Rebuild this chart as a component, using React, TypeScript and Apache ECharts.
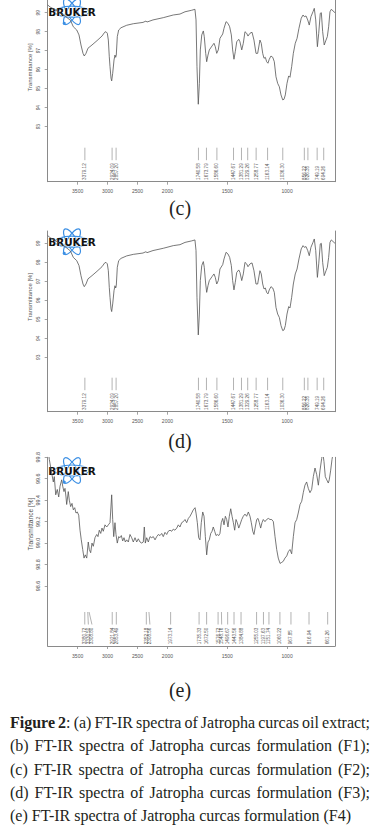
import React, { useEffect, useRef } from 'react';
import * as echarts from 'echarts';

const W = 377;
const H = 829;

// ---- Spectrum F2 (panels c and d): wavenumber [cm-1] and transmittance [%]
const wnF2 = [4000, 3960, 3900, 3800, 3700, 3620, 3572, 3515, 3477, 3444, 3410, 3389, 3360, 3327, 3260, 3176, 3093, 3048, 3026, 3004, 2987, 2971, 2959, 2942, 2931, 2914, 2892, 2876, 2864, 2854, 2837, 2814, 2775, 2680, 2570, 2408, 2358, 2341, 2241, 2069, 1951, 1895, 1853, 1797, 1770, 1761, 1753, 1742, 1733, 1725, 1713, 1700, 1692, 1680, 1672, 1661, 1650, 1627, 1611, 1600, 1588, 1575, 1561, 1538, 1527, 1510, 1494, 1480, 1466, 1455, 1444, 1433, 1421, 1404, 1394, 1379, 1366, 1352, 1338, 1327, 1310, 1293, 1277, 1260, 1246, 1227, 1216, 1204, 1193, 1182, 1171, 1160, 1149, 1135, 1120, 1107, 1093, 1079, 1065, 1051, 1037, 1026, 1015, 1001, 987, 976, 962, 948, 932, 917, 901, 882, 867, 856, 842, 828, 815, 801, 784, 773, 761, 747, 736, 723, 714, 703, 690, 675, 664, 653, 642, 631, 617, 600];
const trF2 = [99.41, 99.3, 99.2, 99.0, 98.8, 98.6, 98.26, 98.09, 97.83, 97.3, 96.86, 96.72, 96.86, 97.13, 97.3, 97.53, 97.77, 97.97, 98.0, 97.92, 97.56, 96.68, 96.16, 95.55, 95.41, 95.81, 96.51, 96.77, 96.65, 96.77, 97.74, 98.09, 98.21, 98.34, 98.42, 98.49, 98.56, 98.51, 98.62, 98.74, 98.88, 98.93, 99.05, 99.13, 99.18, 98.62, 96.16, 94.18, 95.28, 97.04, 97.83, 98.04, 97.74, 96.86, 96.42, 96.77, 97.04, 97.25, 97.39, 97.21, 96.86, 97.04, 97.65, 97.88, 98.18, 98.53, 98.44, 98.26, 97.83, 97.04, 96.55, 96.95, 97.47, 97.6, 97.47, 97.04, 97.39, 98.0, 97.92, 97.77, 97.92, 97.97, 97.56, 96.86, 96.86, 97.56, 97.39, 96.86, 96.6, 96.65, 96.42, 96.34, 96.55, 96.72, 96.65, 96.42, 95.63, 95.28, 95.1, 94.67, 94.41, 94.44, 94.67, 95.28, 95.67, 95.6, 96.16, 96.86, 97.39, 97.65, 98.18, 98.71, 98.88, 98.79, 98.83, 98.62, 98.35, 98.79, 99.05, 99.23, 98.62, 97.21, 97.92, 98.97, 99.0, 98.0, 97.3, 97.56, 97.74, 98.26, 99.05, 99.18, 99.1, 99.0];
const peaksF2 = [3379.12, 2924.09, 2857.2, 1740.58, 1673.79, 1586.6, 1447.67, 1381.29, 1329.26, 1258.77, 1163.14, 1036.3, 856.22, 826.35, 749.19, 694.26];

// ---- Spectrum F4 (panel e)
const wnF4 = [4000, 3973, 3933, 3906, 3890, 3866, 3840, 3816, 3794, 3766, 3749, 3728, 3711, 3694, 3683, 3656, 3639, 3616, 3594, 3572, 3549, 3527, 3505, 3482, 3460, 3439, 3415, 3393, 3372, 3348, 3322, 3305, 3282, 3260, 3238, 3210, 3181, 3160, 3138, 3114, 3093, 3071, 3043, 3014, 2987, 2959, 2931, 2914, 2897, 2876, 2859, 2837, 2814, 2792, 2770, 2747, 2725, 2703, 2680, 2653, 2625, 2597, 2570, 2541, 2513, 2486, 2458, 2429, 2403, 2386, 2369, 2346, 2319, 2291, 2262, 2236, 2207, 2179, 2152, 2124, 2095, 2069, 2040, 2012, 1993, 1978, 1964, 1951, 1937, 1922, 1909, 1895, 1881, 1867, 1853, 1839, 1825, 1811, 1797, 1784, 1769, 1761, 1750, 1739, 1728, 1717, 1705, 1694, 1683, 1672, 1661, 1650, 1638, 1627, 1617, 1605, 1594, 1583, 1571, 1561, 1550, 1538, 1527, 1516, 1505, 1494, 1483, 1471, 1460, 1449, 1438, 1427, 1416, 1404, 1394, 1379, 1366, 1352, 1338, 1324, 1310, 1299, 1287, 1277, 1266, 1254, 1243, 1232, 1221, 1210, 1199, 1185, 1171, 1157, 1143, 1129, 1115, 1101, 1087, 1074, 1059, 1045, 1032, 1018, 1003, 990, 976, 962, 948, 934, 920, 907, 892, 878, 865, 851, 837, 823, 809, 795, 781, 767, 753, 739, 725, 711, 703, 692, 681, 669, 656, 648, 636, 625, 614, 600];
const trF4 = [99.9, 99.78, 99.65, 99.57, 99.62, 99.45, 99.5, 99.43, 99.53, 99.59, 99.53, 99.48, 99.51, 99.43, 99.36, 99.48, 99.4, 99.34, 99.37, 99.31, 99.33, 99.28, 99.29, 99.26, 99.12, 99.03, 98.94, 98.86, 98.89, 98.86, 99.01, 98.94, 98.91, 99.0, 98.97, 99.05, 99.08, 99.06, 99.12, 99.09, 99.14, 99.11, 99.17, 99.15, 99.17, 99.19, 99.45, 99.22, 99.06, 99.19, 99.08, 99.0, 99.06, 99.05, 99.07, 99.02, 99.05, 99.01, 99.03, 99.01, 99.08, 99.05, 99.01, 99.05, 99.01, 99.04, 99.01, 99.0, 99.01, 99.15, 99.0, 99.05, 99.01, 99.06, 99.05, 99.06, 99.03, 99.06, 99.08, 99.07, 99.09, 99.06, 99.1, 99.08, 99.11, 99.12, 99.11, 99.13, 99.12, 99.14, 99.17, 99.15, 99.19, 99.2, 99.22, 99.19, 99.23, 99.25, 99.28, 99.31, 99.33, 99.28, 99.19, 99.05, 99.03, 99.19, 99.29, 99.25, 99.06, 98.89, 99.01, 99.03, 99.09, 99.11, 99.15, 99.11, 99.07, 99.08, 99.07, 99.09, 99.19, 99.23, 99.17, 99.25, 99.22, 99.15, 99.25, 99.32, 99.25, 99.19, 99.12, 99.22, 99.19, 99.14, 99.17, 99.22, 99.25, 99.27, 99.25, 99.29, 99.25, 99.19, 99.11, 99.08, 99.15, 99.22, 99.23, 99.19, 99.14, 99.19, 99.22, 99.2, 99.22, 99.23, 99.22, 99.22, 99.2, 99.06, 98.94, 98.86, 98.81, 98.82, 98.83, 98.86, 98.88, 98.92, 98.94, 98.9, 99.06, 99.19, 99.22, 99.28, 99.36, 99.39, 99.47, 99.54, 99.57, 99.51, 99.47, 99.5, 99.62, 99.7, 99.64, 99.54, 99.68, 99.79, 99.85, 99.76, 99.62, 99.59, 99.56, 99.59, 99.68, 99.78, 99.85, 99.9];
const peaksF4 = [3380.72, 3330.5, 3308.8, 2921.84, 2853.49, 2352.18, 2308.56, 1973.14, 1735.33, 1672.5, 1576.72, 1548.76, 1496.67, 1443.56, 1384.88, 1255.03, 1197.63, 1151.74, 1060.22, 967.85, 816.94, 661.26];

// ---- Tick labels
const xTickLabels = [3500, 3000, 2500, 2000, 1500, 1000];
const yTicksF2 = [93, 94, 95, 96, 97, 98, 99];
const yTicksF4 = [98.6, 98.8, 99.0, 99.2, 99.4, 99.6, 99.8];

// ---- Texts
const panelLabels = ['(c)', '(d)', '(e)'];
const yAxisName = 'Transmittance [%]';
const logoText = 'BRUKER';
const captionBold = 'Figure 2';
const captionLines = [
  'Figure 2: (a) FT-IR spectra of Jatropha curcas oil extract;',
  '(b) FT-IR spectra of Jatropha curcas formulation (F1);',
  '(c) FT-IR spectra of Jatropha curcas formulation (F2);',
  '(d) FT-IR spectra of Jatropha curcas formulation (F3);',
  '(e) FT-IR spectra of Jatropha curcas formulation (F4)',
];

// Bruker plots compress the region above 2000 cm-1 by a factor of two
const toT = (w: number) => (w <= 2000 ? w : 2000 + (w - 2000) / 2);
const fromT = (t: number) => (t <= 2000 ? t : 2000 + (t - 2000) * 2);

function spreadLabels(peaks: number[], gap: number) {
  const out: number[] = [];
  peaks.map(toT).forEach((t, i) => {
    out.push(i > 0 && out[i - 1] - t < gap ? out[i - 1] - gap : t);
  });
  return out;
}

const AXIS = '#8a8a8a';
const TXT = '#555';
const SANS = '"Liberation Sans", Arial, sans-serif';
const SERIF = '"Liberation Serif", "Times New Roman", serif';
const BLUE = '#3b8fe4';

const panels = [
  { wn: wnF2, tr: trF2, peaks: peaksF2, yTicks: yTicksF2, dec: 0, yMin: 90.1, yMax: 99.67, top: 0, height: 181.7, yFont: 4.8, nameFont: 6, nameY: 67.5, logoY: 11.7, labelY: 207.5 },
  { wn: wnF2, tr: trF2, peaks: peaksF2, yTicks: yTicksF2, dec: 0, yMin: 90.14, yMax: 99.65, top: 231, height: 180.7, yFont: 4.8, nameFont: 6, nameY: 297, logoY: 241.7, labelY: 441 },
  { wn: wnF4, tr: trF4, peaks: peaksF4, yTicks: yTicksF4, dec: 1, yMin: 98.04, yMax: 99.8, top: 457.3, height: 188.7, yFont: 5.4, nameFont: 6.6, nameY: 524, logoY: 470.5, labelY: 690 },
];

const GL = 47.7;
const GW = 287.3;

function logo(cy: number) {
  const ell = (rx: number, ry: number, rot: number) => ({
    type: 'ellipse', rotation: rot, shape: { cx: 0, cy: 0, rx, ry },
    style: { fill: 'none', stroke: BLUE, lineWidth: 1.2 },
  });
  return {
    type: 'group', x: 72, y: cy, z: 100,
    children: [
      ell(17, 5.5, 0),
      ell(14.5, 5, Math.PI / 3),
      ell(14.5, 5, -Math.PI / 3),
      { type: 'circle', shape: { cx: -7.8, cy: 11.6, r: 1.6 }, style: { fill: BLUE } },
      {
        type: 'text', x: 0, y: 0.3,
        style: { text: logoText, fontFamily: '"DejaVu Sans", sans-serif', fontWeight: 'bold', fontSize: 10.4, fill: '#111', stroke: '#fff', lineWidth: 0.8, align: 'center', verticalAlign: 'middle' },
      },
    ],
  };
}

function captionElements(): any[] {
  const fs = 16;
  const left = 10;
  const width = 360;
  const top = 722.5;
  const step = 23.3;
  const ctx = document.createElement('canvas').getContext('2d')!;
  const measure = (s: string, bold: boolean) => {
    if (!s) return 0;
    ctx.font = `${bold ? 'bold ' : ''}${fs}px ${SERIF}`;
    return ctx.measureText(s).width;
  };
  const els: any[] = [];
  captionLines.forEach((line, li) => {
    let pos = 0;
    const toks = line.split(' ').map((wd) => {
      const start = pos;
      pos += wd.length + 1;
      const nb = li === 0 ? Math.max(0, Math.min(wd.length, captionBold.length - start)) : 0;
      return { b: wd.slice(0, nb), n: wd.slice(nb) };
    });
    const widths = toks.map((t) => measure(t.b, true) + measure(t.n, false));
    const total = widths.reduce((a, b) => a + b, 0);
    const justify = li < captionLines.length - 1;
    const gap = justify ? (width - total) / (toks.length - 1) : measure(' ', false);
    let x = left;
    toks.forEach((t, i) => {
      els.push({
        type: 'text', x, y: top + li * step, z: 100,
        style: {
          text: (t.b ? `{b|${t.b}}` : '') + t.n,
          rich: { b: { fontWeight: 'bold', fontSize: fs, fontFamily: SERIF, fill: '#231f20' } },
          fontSize: fs, fontFamily: SERIF, fill: '#231f20', align: 'left', verticalAlign: 'middle',
        },
      });
      x += widths[i] + gap;
    });
  });
  return els;
}

function buildOption() {
  const xTickT = xTickLabels.map(toT);
  const grid: any[] = [];
  const xAxis: any[] = [];
  const yAxis: any[] = [];
  const series: any[] = [];
  const graphic: any[] = [];

  panels.forEach((p, i) => {
    grid.push({ left: GL, width: GW, top: p.top, height: p.height, containLabel: false, outerBoundsMode: 'none' });
    xAxis.push({
      type: 'value', gridIndex: i, min: 600, max: 3000, inverse: true,
      axisLine: { show: true, onZero: false, lineStyle: { color: AXIS, width: 1 } },
      axisTick: { show: true, length: 3, customValues: xTickT, lineStyle: { color: AXIS, width: 0.8 } },
      axisLabel: { show: true, customValues: xTickT, formatter: (v: number) => String(Math.round(fromT(v))), fontSize: 5, color: TXT, margin: 7, fontFamily: SANS },
      splitLine: { show: false },
    });
    yAxis.push({
      type: 'value', gridIndex: i, min: p.yMin, max: p.yMax, position: 'left',
      axisLine: { show: true, onZero: false, lineStyle: { color: AXIS, width: 1 } },
      axisTick: { show: true, length: 3, customValues: p.yTicks, lineStyle: { color: AXIS, width: 0.8 } },
      axisLabel: { show: true, customValues: p.yTicks, rotate: 90, fontSize: p.yFont, color: TXT, margin: 7, fontFamily: SANS, formatter: (v: number) => v.toFixed(p.dec) },
      splitLine: { show: false },
    });
    yAxis.push({
      type: 'value', gridIndex: i, min: p.yMin, max: p.yMax, position: 'right',
      axisLine: { show: true, onZero: false, lineStyle: { color: AXIS, width: 1 } },
      axisTick: { show: false }, axisLabel: { show: false }, splitLine: { show: false },
    });
    series.push({
      type: 'line', xAxisIndex: i, yAxisIndex: 2 * i, symbol: 'none', showSymbol: false, silent: true, clip: true,
      lineStyle: { color: '#555555', width: 0.8 },
      data: p.wn.map((w, k) => [toT(w), p.tr[k]]),
    });
    const labelT = spreadLabels(p.peaks, 30);
    const yMin = p.yMin;
    series.push({
      type: 'custom', xAxisIndex: i, yAxisIndex: 2 * i, silent: true,
      encode: { x: 0, y: 1 },
      data: p.peaks.map((w, k) => [toT(w), yMin, labelT[k]]),
      renderItem: (params: any, api: any) => {
        const a = api.coord([api.value(0), yMin]);
        const b = api.coord([api.value(2), yMin]);
        const yb = a[1];
        return {
          type: 'group',
          children: [
            { type: 'line', shape: { x1: a[0], y1: yb - 34, x2: b[0], y2: yb - 21.5 }, style: { stroke: '#808080', lineWidth: 0.6 } },
            {
              type: 'text', x: b[0], y: yb - 1.8, rotation: Math.PI / 2,
              style: { text: p.peaks[params.dataIndex].toFixed(2), fontSize: 4.6, fontFamily: SANS, fill: TXT, align: 'left', verticalAlign: 'middle' },
            },
          ],
        };
      },
    });
    graphic.push({
      type: 'text', x: 30, y: p.nameY, rotation: Math.PI / 2, z: 100,
      style: { text: yAxisName, fontSize: p.nameFont, fontFamily: SANS, fill: TXT, align: 'center', verticalAlign: 'middle' },
    });
    graphic.push(logo(p.logoY));
    graphic.push({
      type: 'text', x: 180, y: p.labelY, z: 100,
      style: { text: panelLabels[i], fontSize: 20, fontFamily: SERIF, fill: '#231f20', align: 'center', verticalAlign: 'middle' },
    });
  });

  graphic.push(...captionElements());

  return { animation: false, backgroundColor: '#fff', grid, xAxis, yAxis, series, graphic };
}

export default function App() {
  const ref = useRef<HTMLDivElement>(null);
  useEffect(() => {
    const chart = echarts.init(ref.current!, null, { renderer: 'svg', width: W, height: H });
    chart.setOption(buildOption() as any);
    return () => chart.dispose();
  }, []);
  return <div ref={ref} style={{ position: 'absolute', left: 0, top: 0, width: W, height: H, background: '#fff' }} />;
}
